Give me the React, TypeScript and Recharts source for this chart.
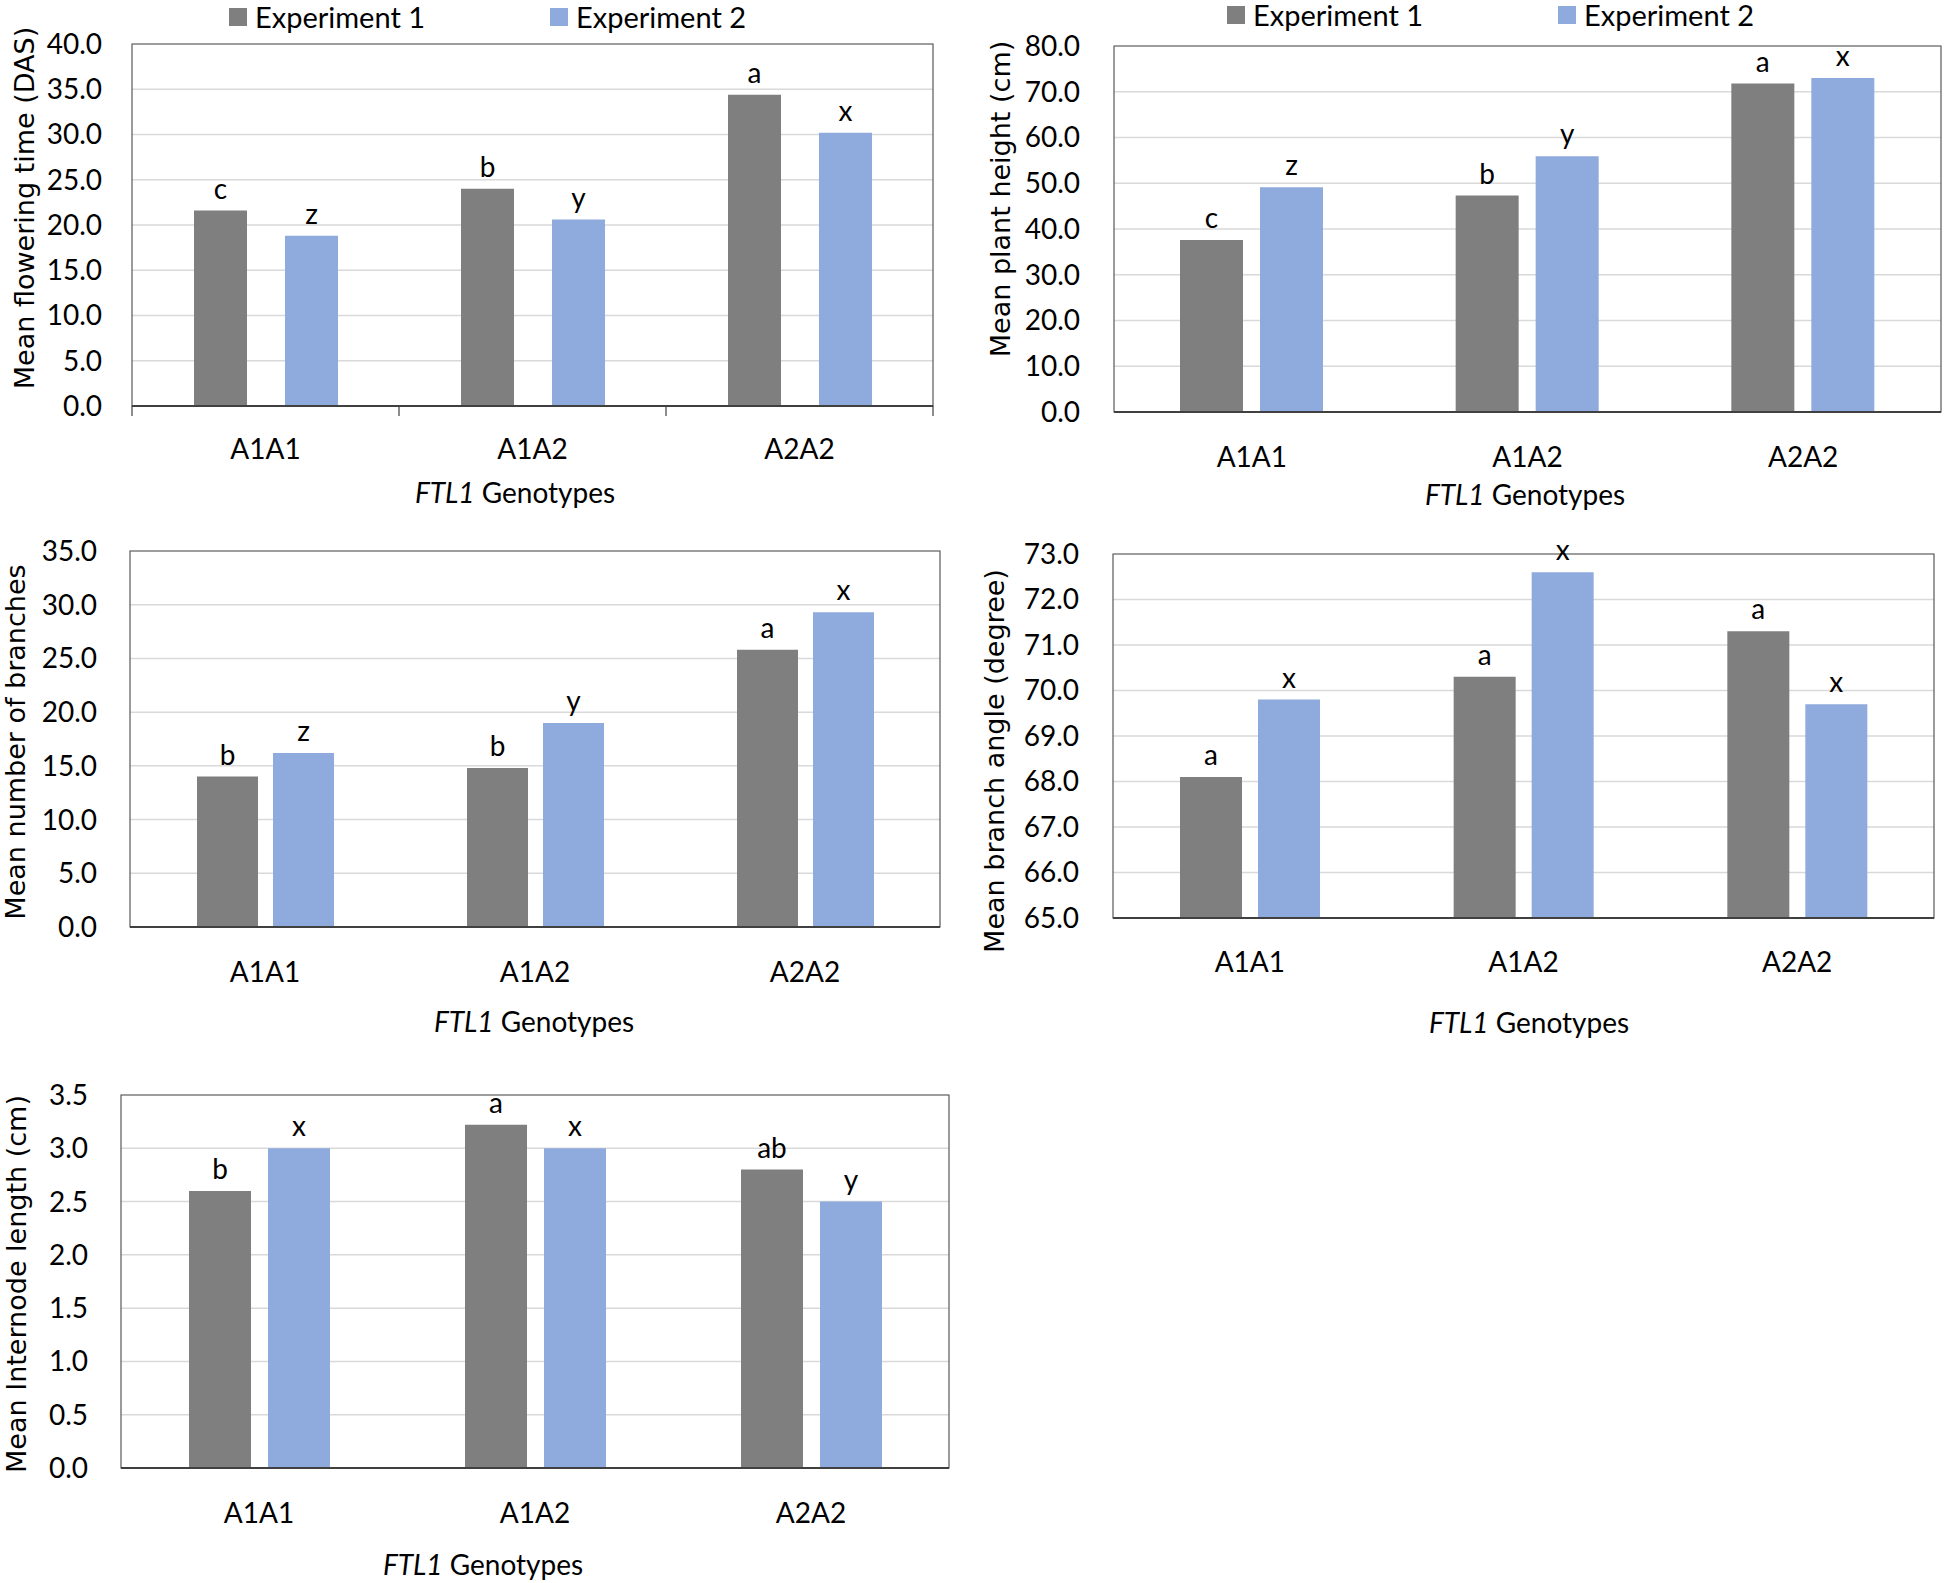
import { BarChart, Bar, XAxis, YAxis, CartesianGrid, LabelList, Legend, ReferenceArea } from 'recharts';

const genotypes = ['A1A1', 'A1A2', 'A2A2'];
const seriesNames = ['Experiment 1', 'Experiment 2'];

const floweringExp1 = [21.6, 24.0, 34.4];
const floweringExp2 = [18.8, 20.6, 30.2];
const floweringLetters1 = ['c', 'b', 'a'];
const floweringLetters2 = ['z', 'y', 'x'];
const floweringTicks = [0, 5, 10, 15, 20, 25, 30, 35, 40];

const heightExp1 = [37.6, 47.3, 71.8];
const heightExp2 = [49.1, 55.9, 73.0];
const heightLetters1 = ['c', 'b', 'a'];
const heightLetters2 = ['z', 'y', 'x'];
const heightTicks = [0, 10, 20, 30, 40, 50, 60, 70, 80];

const branchesExp1 = [14.0, 14.8, 25.8];
const branchesExp2 = [16.2, 19.0, 29.3];
const branchesLetters1 = ['b', 'b', 'a'];
const branchesLetters2 = ['z', 'y', 'x'];
const branchesTicks = [0, 5, 10, 15, 20, 25, 30, 35];

const angleExp1 = [68.1, 70.3, 71.3];
const angleExp2 = [69.8, 72.6, 69.7];
const angleLetters1 = ['a', 'a', 'a'];
const angleLetters2 = ['x', 'x', 'x'];
const angleTicks = [65, 66, 67, 68, 69, 70, 71, 72, 73];

const internodeExp1 = [2.6, 3.22, 2.8];
const internodeExp2 = [3.0, 3.0, 2.5];
const internodeLetters1 = ['b', 'a', 'ab'];
const internodeLetters2 = ['x', 'x', 'y'];
const internodeTicks = [0, 0.5, 1.0, 1.5, 2.0, 2.5, 3.0, 3.5];

const EXP1 = '#7f7f7f';
const EXP2 = '#8faadc';
const FONT = 'Lato, "Liberation Sans", sans-serif';
const TITLE_FONT = '"DejaVu Sans", sans-serif';

const buildRows = (e1: number[], e2: number[], l1: string[], l2: string[]) =>
  genotypes.map((g, i) => ({ genotype: g, exp1: e1[i], exp2: e2[i], l1: l1[i], l2: l2[i] }));

interface Box { x: number; y: number; w: number; h: number }
interface Plot { l: number; t: number; r: number; b: number }

interface PanelProps {
  box: Box;
  plot: Plot;
  rows: ReturnType<typeof buildRows>;
  ticks: number[];
  yTitle: string;
  yTitleAt: [number, number];
  xTitleAt: [number, number];
  barSize: number;
  barGap: number;
  tickGap: number;
  xTickDy: number;
  marks?: boolean;
  legendAt?: [number, number, number];
}

const GenotypeTick = (props: any) => {
  const { x, y, payload, index, visibleTicksCount, width, marks, dy } = props;
  const band = width / visibleTicksCount;
  return (
    <g>
      {marks && <line x1={x - band / 2} x2={x - band / 2} y1={y} y2={y + 10} stroke="#404040" strokeWidth={1.2} />}
      {marks && index === visibleTicksCount - 1 && (
        <line x1={x + band / 2} x2={x + band / 2} y1={y} y2={y + 10} stroke="#404040" strokeWidth={1.2} />
      )}
      <text x={x} y={y + dy} textAnchor="middle" fill="#000" fontSize={28} fontFamily={FONT}>
        {payload.value}
      </text>
    </g>
  );
};

const LegendBox = ({ payload, itemWidth }: any) => (
  <div style={{ display: 'flex', fontFamily: FONT, fontSize: 29, lineHeight: '29px', color: '#000', whiteSpace: 'nowrap' }}>
    {(payload || []).map((p: any, i: number) => (
      <div key={i} style={{ display: 'flex', alignItems: 'center', width: i === 0 ? itemWidth : 'auto' }}>
        <span style={{ display: 'inline-block', width: 18, height: 18, background: p.color, marginRight: 8 }} />
        <span>{p.value}</span>
      </div>
    ))}
  </div>
);

const Panel = ({ box, plot, rows, ticks, yTitle, yTitleAt, xTitleAt, barSize, barGap, tickGap, xTickDy, marks, legendAt }: PanelProps) => {
  const lo = ticks[0];
  const hi = ticks[ticks.length - 1];
  const tx = yTitleAt[0] - box.x;
  const ty = yTitleAt[1] - box.y;
  return (
    <div style={{ position: 'absolute', left: box.x, top: box.y, width: box.w, height: box.h }}>
      <BarChart
        width={box.w}
        height={box.h}
        data={rows}
        barSize={barSize}
        barGap={barGap}
        margin={{ top: plot.t - box.y, right: box.x + box.w - plot.r, left: 0, bottom: 0 }}
      >
        <CartesianGrid vertical={false} stroke="#d9d9d9" strokeWidth={1.5} />
        <XAxis
          dataKey="genotype"
          height={box.y + box.h - plot.b}
          tickSize={0}
          tickMargin={0}
          interval={0}
          axisLine={{ stroke: '#404040', strokeWidth: 2 }}
          tickLine={false}
          tick={<GenotypeTick marks={marks} dy={xTickDy} />}
          label={() => (
            <text x={xTitleAt[0] - box.x} y={xTitleAt[1] - box.y} textAnchor="middle" fill="#000" fontSize={28} fontFamily={FONT}>
              <tspan fontStyle="italic">FTL1</tspan>
              {' Genotypes'}
            </text>
          )}
        />
        <YAxis
          width={plot.l - box.x}
          domain={[lo, hi]}
          ticks={ticks}
          interval={0}
          allowDataOverflow
          axisLine={false}
          tickLine={false}
          tickSize={0}
          tickMargin={tickGap}
          tickFormatter={(v: number) => v.toFixed(1)}
          tick={{ fill: '#000', fontSize: 28, fontFamily: FONT }}
          label={() => (
            <text
              x={tx}
              y={ty}
              transform={`rotate(-90 ${tx} ${ty})`}
              textAnchor="middle"
              dominantBaseline="central"
              fill="#000"
              fontSize={27}
              fontFamily={TITLE_FONT}
            >
              {yTitle}
            </text>
          )}
        />
        {legendAt && (
          <Legend
            layout="vertical"
            align="center"
            verticalAlign="middle"
            wrapperStyle={{ left: legendAt[0] - box.x, top: legendAt[1] - box.y, width: 'auto', height: 'auto' }}
            content={(p: any) => <LegendBox payload={p.payload} itemWidth={legendAt[2]} />}
          />
        )}
        <Bar dataKey="exp1" name={seriesNames[0]} fill={EXP1} isAnimationActive={false}>
          <LabelList dataKey="l1" position="top" offset={12} fill="#000" fontSize={28} fontFamily={FONT} />
        </Bar>
        <Bar dataKey="exp2" name={seriesNames[1]} fill={EXP2} isAnimationActive={false}>
          <LabelList dataKey="l2" position="top" offset={12} fill="#000" fontSize={28} fontFamily={FONT} />
        </Bar>
        <ReferenceArea y1={lo} y2={hi} fill="none" stroke="#595959" strokeWidth={1.2} />
      </BarChart>
    </div>
  );
};

const App = () => (
  <div style={{ position: 'absolute', left: 0, top: 0, width: 1944, height: 1583, background: '#fff' }}>
    <Panel
      box={{ x: 0, y: 0, w: 944, h: 520 }}
      plot={{ l: 132, t: 44, r: 933, b: 406 }}
      rows={buildRows(floweringExp1, floweringExp2, floweringLetters1, floweringLetters2)}
      ticks={floweringTicks}
      yTitle="Mean flowering time (DAS)"
      yTitleAt={[24, 208]}
      xTitleAt={[515, 503]}
      barSize={53}
      barGap={38}
      tickGap={30}
      xTickDy={53}
      marks
      legendAt={[229, 2, 321]}
    />
    <Panel
      box={{ x: 944, y: 0, w: 1000, h: 520 }}
      plot={{ l: 1114, t: 46, r: 1941, b: 412 }}
      rows={buildRows(heightExp1, heightExp2, heightLetters1, heightLetters2)}
      ticks={heightTicks}
      yTitle="Mean plant height (cm)"
      yTitleAt={[1000, 199]}
      xTitleAt={[1525, 505]}
      barSize={63}
      barGap={17}
      tickGap={34}
      xTickDy={55}
      legendAt={[1227, 0, 331]}
    />
    <Panel
      box={{ x: 0, y: 520, w: 944, h: 540 }}
      plot={{ l: 130, t: 551, r: 940, b: 927 }}
      rows={buildRows(branchesExp1, branchesExp2, branchesLetters1, branchesLetters2)}
      ticks={branchesTicks}
      yTitle="Mean number of branches"
      yTitleAt={[15, 742]}
      xTitleAt={[534, 1032]}
      barSize={61}
      barGap={15}
      tickGap={33}
      xTickDy={55}
    />
    <Panel
      box={{ x: 944, y: 520, w: 1000, h: 540 }}
      plot={{ l: 1113, t: 554, r: 1934, b: 918 }}
      rows={buildRows(angleExp1, angleExp2, angleLetters1, angleLetters2)}
      ticks={angleTicks}
      yTitle="Mean branch angle (degree)"
      yTitleAt={[994, 761]}
      xTitleAt={[1529, 1033]}
      barSize={62}
      barGap={16}
      tickGap={34}
      xTickDy={54}
    />
    <Panel
      box={{ x: 0, y: 1060, w: 960, h: 523 }}
      plot={{ l: 121, t: 1095, r: 949, b: 1468 }}
      rows={buildRows(internodeExp1, internodeExp2, internodeLetters1, internodeLetters2)}
      ticks={internodeTicks}
      yTitle="Mean Internode length (cm)"
      yTitleAt={[16, 1284]}
      xTitleAt={[483, 1575]}
      barSize={62}
      barGap={17}
      tickGap={33}
      xTickDy={55}
    />
  </div>
);

export default App;
